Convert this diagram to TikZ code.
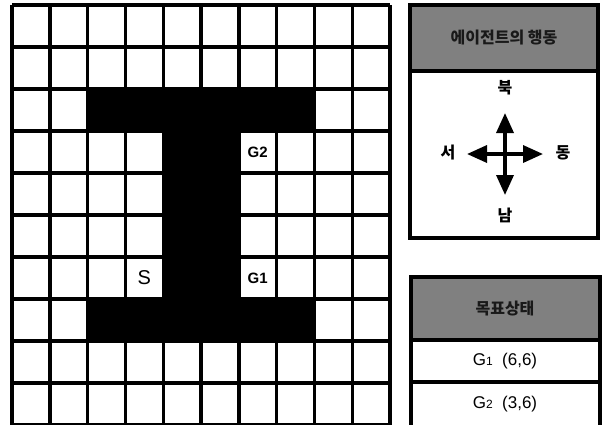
\documentclass[tikz,border=0pt]{standalone}
\usepackage{fontspec}
\setmainfont{Liberation Sans}
\newfontfamily\krfont{Noto Sans CJK KR}
\usetikzlibrary{arrows.meta}

\tikzstyle{grid line}=[line width=3.4pt]
\tikzstyle{wall}=[fill=black]
\tikzstyle{goal label}=[font=\fontsize{15}{15}\selectfont\bfseries]
\tikzstyle{start label}=[font=\fontsize{20}{20}\selectfont]
\tikzstyle{panel}=[draw=black, line width=3.4pt]
\tikzstyle{panel head}=[fill=black!50]
\tikzstyle{head text}=[font=\krfont\fontsize{16}{16}\selectfont\bfseries, text=black!90]
\tikzstyle{dir label}=[font=\krfont\fontsize{16}{16}\selectfont\bfseries]
\tikzstyle{compass}=[line width=3.4pt, -{Triangle[length=20pt,width=17pt]}]
\tikzstyle{goal text}=[font=\fontsize{17}{17}\selectfont]

\newcommand{\sm}[1]{{\fontsize{12}{12}\selectfont #1}}

\begin{document}
\begin{tikzpicture}[x=1pt, y=-1pt]
	\useasboundingbox (0,0) rectangle (604,424);

	% Grid world with the wall
	\begin{scope}[xshift=12pt, yshift=-5pt, x=37.8pt, y=-42pt]
		\fill[wall] (2,2) -- (8,2) -- (8,3) -- (6,3) -- (6,7) -- (8,7) -- (8,8)
			-- (2,8) -- (2,7) -- (4,7) -- (4,3) -- (2,3) -- cycle;
		\foreach \i in {0,...,10}{
			\draw[grid line] (\i,0) -- (\i,10);
			\draw[grid line] (0,\i) -- (10,\i);
		}
		\node[start label] (start) at (3.5,6.5) {S};
		\node[goal label] (goal1) at (6.5,6.5) {G1};
		\node[goal label] (goal2) at (6.5,3.5) {G2};
	\end{scope}

	% Actions of the agent
	\fill[panel head] (410,5) rectangle (598,71);
	\draw[panel] (410,71) -- (598,71);
	\draw[panel] (410,5) rectangle (598,238);
	\node[head text] (acthead) at (504,38) {에이전트의 행동};

	\coordinate (c) at (505,154);
	\coordinate (n) at (505,113);
	\coordinate (s) at (505,195);
	\coordinate (w) at (467,154);
	\coordinate (e) at (543,154);
	\foreach \d in {n, s, w, e}{ \draw[compass] (c) -- (\d); }

	\node[dir label] (north) at (505,88) {북};
	\node[dir label] (south) at (505,215) {남};
	\node[dir label] (west) at (448,153) {서};
	\node[dir label] (east) at (563,153) {동};

	% Goal states
	\fill[panel head] (411,277) rectangle (600,340);
	\draw[panel] (411,340) -- (600,340);
	\draw[panel] (411,382) -- (600,382);
	\draw[panel] (411,277) rectangle (600,430);
	\node[head text] (goalhead) at (505,309) {목표상태};
	\node[goal text] (g1row) at (505,361) {G\sm{1}\ \ (6,6)};
	\node[goal text] (g2row) at (505,404) {G\sm{2}\ \ (3,6)};
\end{tikzpicture}
\end{document}
